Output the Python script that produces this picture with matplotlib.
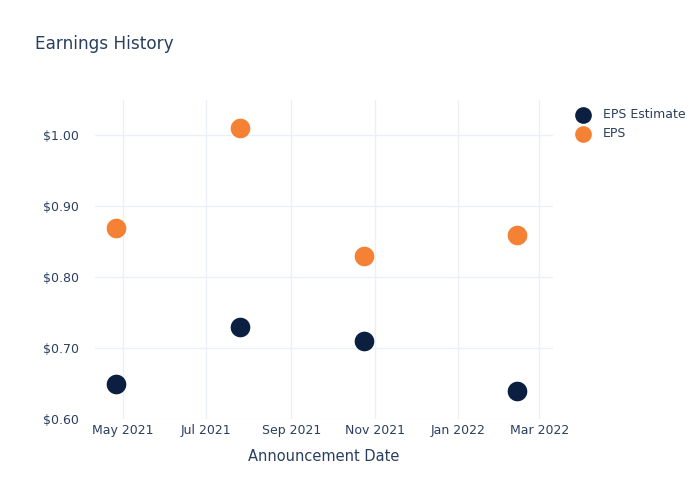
import matplotlib
matplotlib.use('Agg')
import matplotlib.pyplot as plt
import matplotlib.dates as mdates
import matplotlib.ticker as mticker
import pandas as pd

plt.rcParams['font.family'] = ['DejaVu Sans']

# data
dates = pd.to_datetime(["2021-04-26", "2021-07-26", "2021-10-24", "2022-02-13"])
eps_estimate = [0.65, 0.73, 0.71, 0.64]
eps_actual = [0.87, 1.01, 0.83, 0.86]

text_color = "#2a3f5f"
grid_color = "#ebf0f8"
navy = "#0b1f40"
orange = "#f58135"

fig = plt.figure(figsize=(7, 5), dpi=100)
ax = fig.add_axes([0.136, 0.162, 0.654, 0.638])

ax.scatter(dates, eps_estimate, s=200, color=navy, label="EPS Estimate", zorder=3, linewidths=0)
ax.scatter(dates, eps_actual, s=200, color=orange, label="EPS", zorder=3, linewidths=0)

ax.set_xlim(pd.Timestamp("2021-04-11"), pd.Timestamp("2022-03-11"))
ax.set_ylim(0.6, 1.05)

ax.xaxis.set_major_locator(mdates.MonthLocator(bymonth=[1, 3, 5, 7, 9, 11]))
ax.xaxis.set_major_formatter(mdates.DateFormatter("%b %Y"))
ax.yaxis.set_major_locator(mticker.MultipleLocator(0.1))
ax.yaxis.set_major_formatter(mticker.FuncFormatter(lambda v, p: f"${v:.2f}"))

ax.grid(True, color=grid_color, linewidth=1)
ax.set_axisbelow(True)
for s in ax.spines.values():
    s.set_visible(False)
ax.tick_params(length=0, labelsize=9, colors=text_color)
ax.tick_params(axis="y", pad=11.5)
ax.tick_params(axis="x", pad=3.5)

ax.set_xlabel("Announcement Date", fontsize=10.5, color=text_color, labelpad=9)
fig.text(0.05, 0.912, "Earnings History", fontsize=12.2, color=text_color, va="center")

leg = ax.legend(loc="upper left", bbox_to_anchor=(1.027, 0.99), frameon=False,
                fontsize=9, labelcolor=text_color, handletextpad=0.6,
                borderaxespad=0, labelspacing=0.5, markerscale=0.85)

fig.savefig("out.png", dpi=100)
